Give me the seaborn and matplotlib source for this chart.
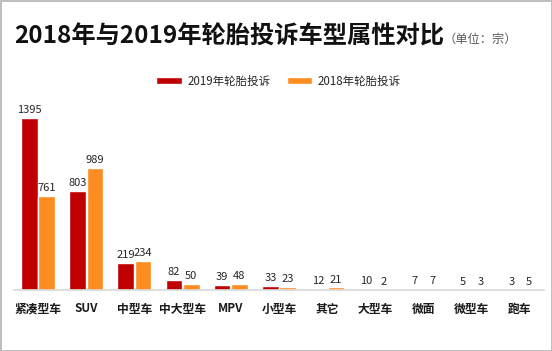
import pandas as pd
import matplotlib.pyplot as plt
import seaborn as sns

categories = ['紧凑型车', 'SUV', '中型车', '中大型车', 'MPV', '小型车', '其它', '大型车', '微面', '微型车', '跑车']
y2019 = [1395, 803, 219, 82, 39, 33, 12, 10, 7, 5, 3]
y2018 = [761, 989, 234, 50, 48, 23, 21, 2, 7, 3, 5]
series = ['2019年轮胎投诉', '2018年轮胎投诉']

df = pd.DataFrame({
    '车型': categories * 2,
    '投诉': y2019 + y2018,
    '年份': [series[0]] * len(categories) + [series[1]] * len(categories),
})

sns.set_style('white')
plt.rcParams['font.family'] = ['Noto Sans CJK SC', 'DejaVu Sans']

fig = plt.figure(figsize=(5.52, 3.51), dpi=100, edgecolor='#bfbfbf', linewidth=2)
ax = fig.add_axes([14 / 552, 1 - 290 / 351, 530 / 552, 190 / 351])

sns.barplot(data=df, x='车型', y='投诉', hue='年份', palette=['#c00000', '#ff8c21'],
            width=0.72, gap=0.04, saturation=1, ax=ax, legend=True)

for c in ax.containers:
    ax.bar_label(c, padding=2, fontsize=8, color='#262626')

ax.set_ylim(0, 1541)
ax.set_xlim(-0.5, len(categories) - 0.5)
ax.set_yticks([])
ax.set_xlabel('')
ax.set_ylabel('')
for s in ['top', 'left', 'right']:
    ax.spines[s].set_visible(False)
ax.spines['bottom'].set_color('#d9d9d9')
ax.spines['bottom'].set_linewidth(1.2)
ax.tick_params(axis='x', length=0, pad=9, labelsize=8.5)
for t in ax.get_xticklabels():
    t.set_fontweight('bold')
    t.set_color('#1a1a1a')

ax.legend(loc='center', bbox_to_anchor=(0.505, 1 - 81 / 351), bbox_transform=fig.transFigure,
          ncol=2, frameon=False, fontsize=8.3, handlelength=2.2, handleheight=0.6,
          columnspacing=1.4, handletextpad=0.5)

fig.text(14 / 552, 1 - 37 / 351, '2018年与2019年轮胎投诉车型属性对比', fontsize=17.5,
         fontweight='bold', va='center', color='#111111')
fig.text(444 / 552, 1 - 39 / 351, '（单位：宗）', fontsize=8.8, va='center', color='#595959')

fig.savefig('out.png', dpi=100, edgecolor=fig.get_edgecolor())
